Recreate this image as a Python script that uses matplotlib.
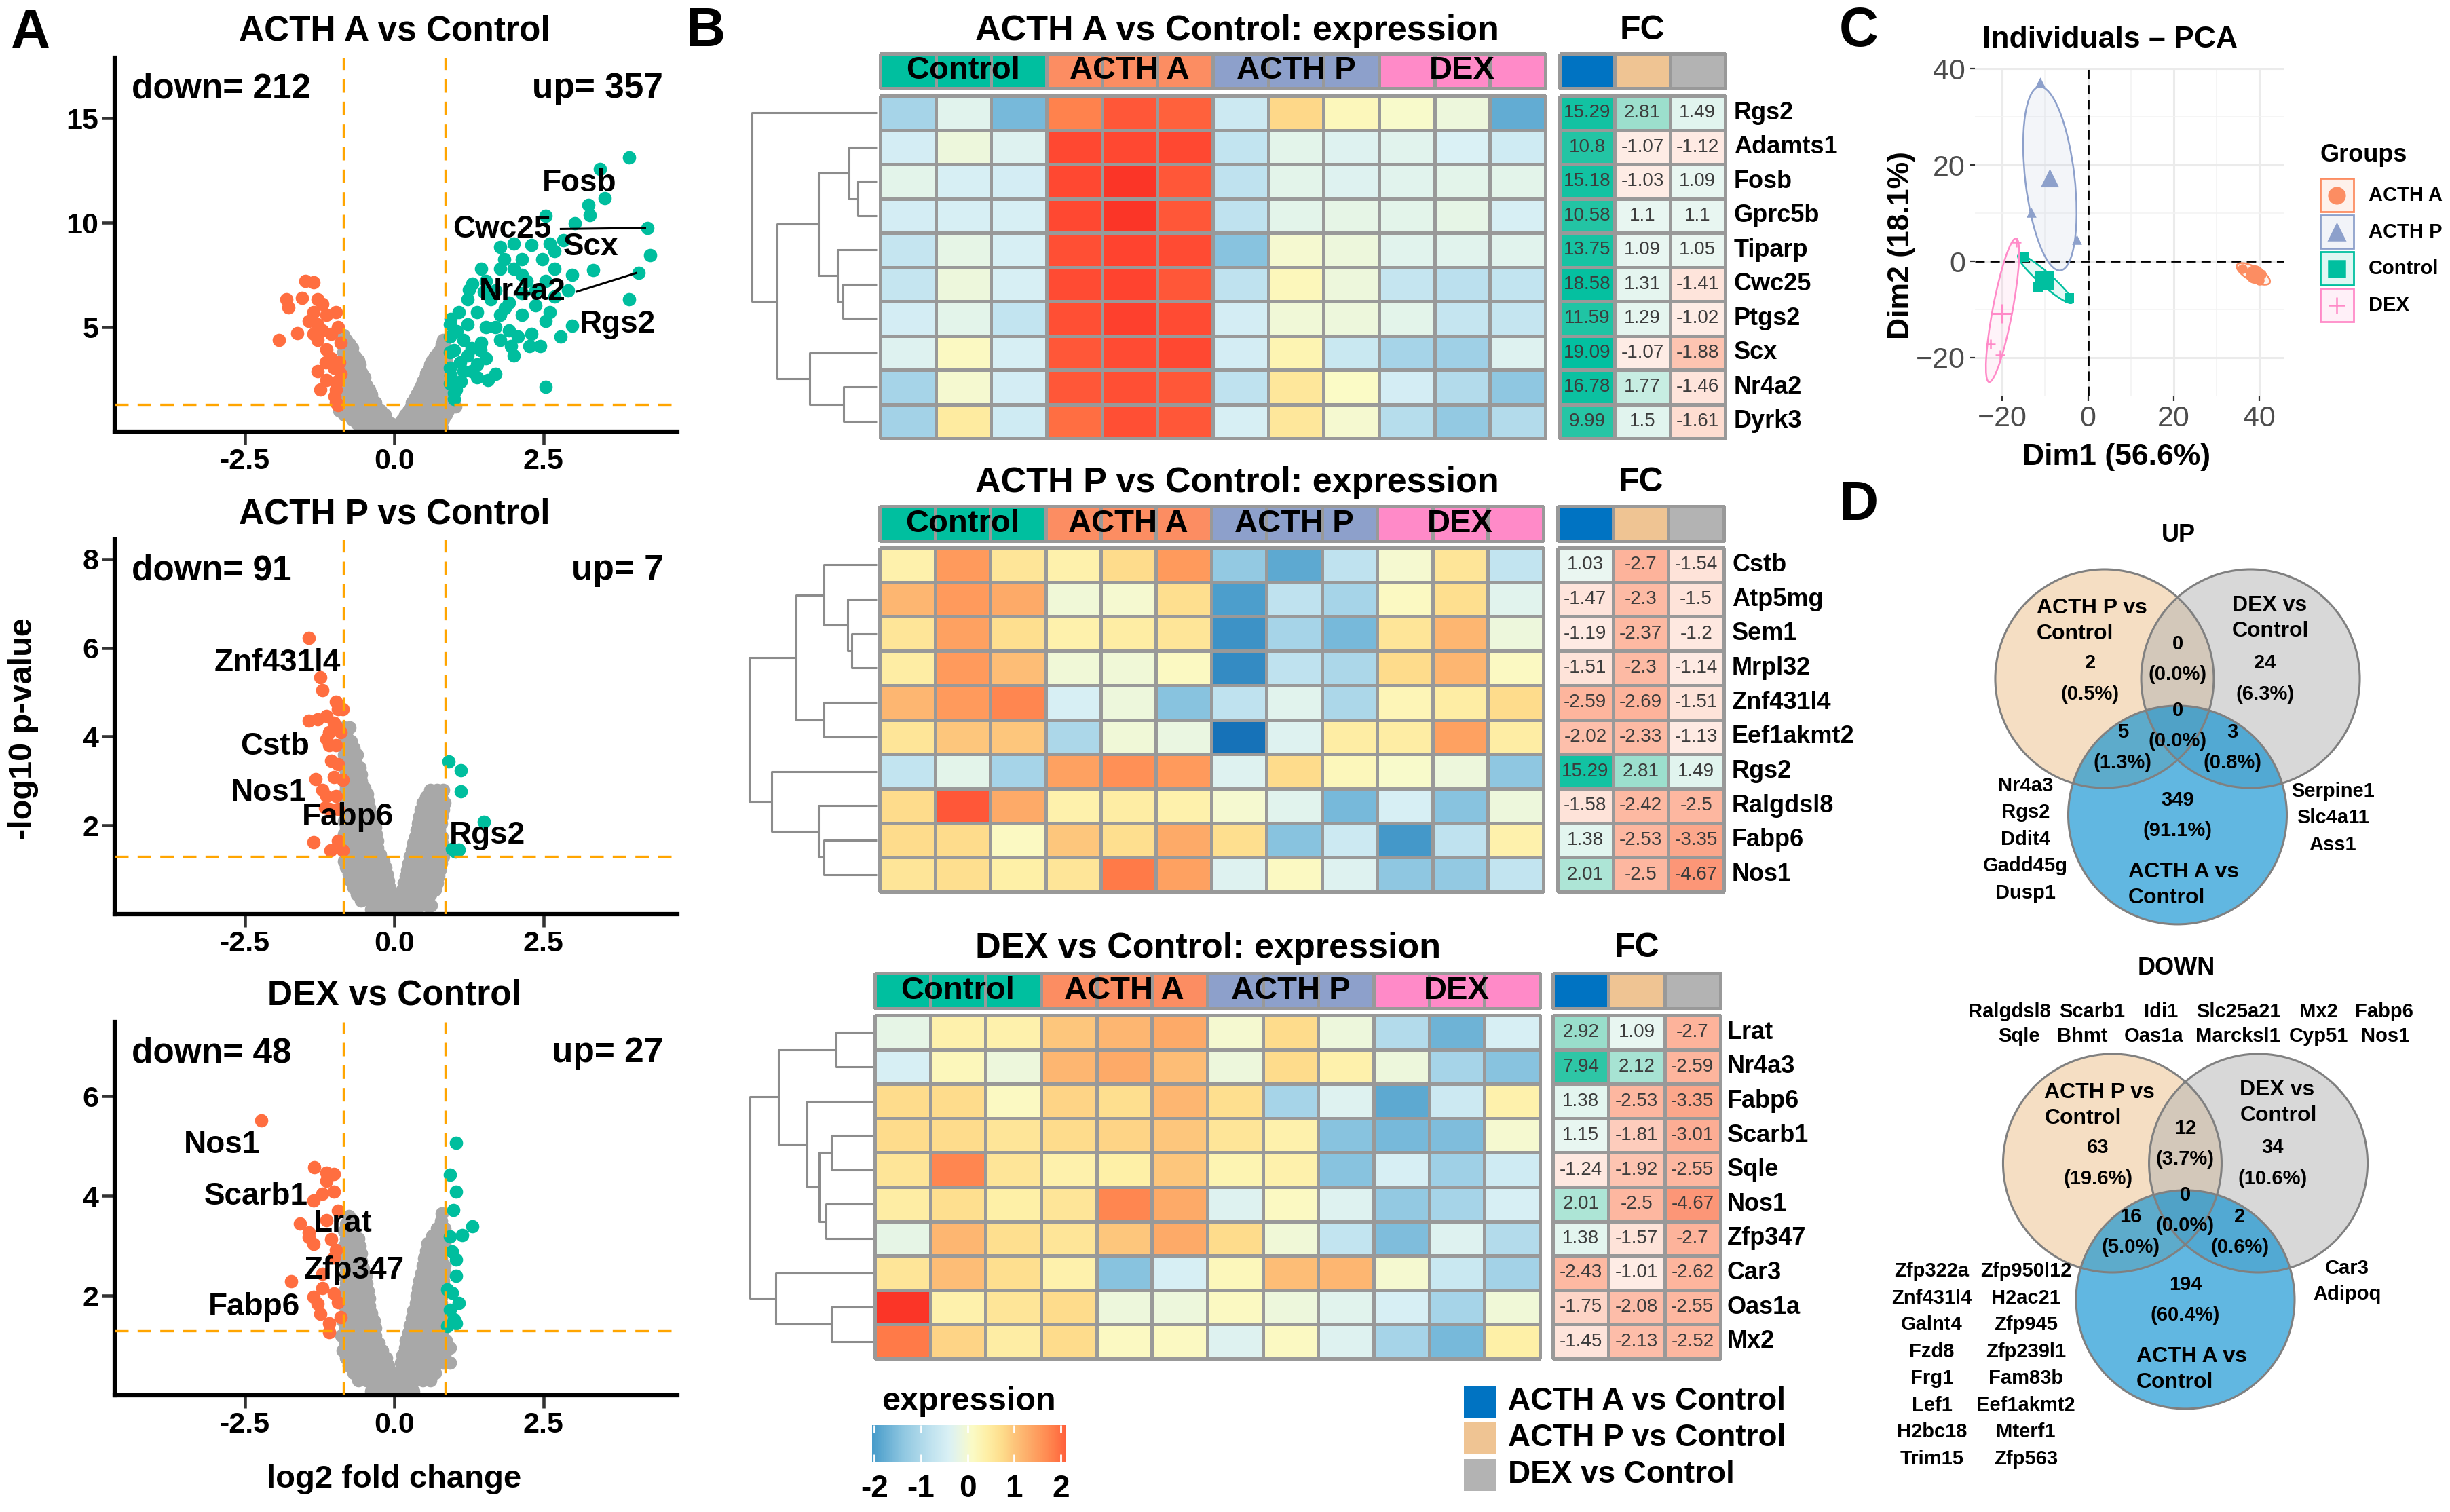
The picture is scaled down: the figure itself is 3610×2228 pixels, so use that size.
import numpy as np
import matplotlib
matplotlib.use("Agg")
import matplotlib.pyplot as plt
from matplotlib.colors import LinearSegmentedColormap, ListedColormap, Normalize
from matplotlib.patches import Ellipse, Circle, Rectangle

plt.rcParams['font.family'] = ['Liberation Sans', 'DejaVu Sans']
plt.rcParams['axes.unicode_minus'] = False

##############################################################################
# Panel A: volcano plots (log2 fold change, -log10 p)
FC_CUT = 0.85
P_CUT = 1.3

V1_GRAY = [
    (4.6, [-0.85]), (4.2, [-0.85, -0.75]), (3.8, [-0.85, -0.72]),
    (3.4, [-0.85, -0.72, -0.6]), (3.0, [-0.85, -0.72, -0.58]),
    (2.6, [-0.85, -0.72, -0.58, -0.5]), (2.2, [-0.85, -0.72, -0.58, -0.46]),
    (1.8, [-0.85, -0.72, -0.58, -0.44, -0.38]), (1.4, [-0.88, -0.74, -0.6, -0.46, -0.32]),
    (1.0, [-0.92, -0.78, -0.64, -0.5, -0.36, -0.22]), (0.6, [-0.7, -0.56, -0.42, -0.28, -0.14]),
    (0.2, [-0.5, -0.36, -0.22, -0.08, 0.06, 0.2, 0.34, 0.48, 0.6]),
    (4.4, [-0.8]), (4.0, [-0.8, -0.7]), (3.6, [-0.8, -0.66]), (3.2, [-0.8, -0.66, -0.58]),
    (2.8, [-0.8, -0.66, -0.54]), (2.4, [-0.8, -0.66, -0.52]), (2.0, [-0.8, -0.66, -0.52, -0.42]),
    (1.6, [-0.8, -0.66, -0.52, -0.4]), (1.2, [-0.84, -0.7, -0.56, -0.42, -0.3]),
    (0.8, [-0.84, -0.7, -0.56, -0.42, -0.28, -0.16]), (0.4, [-0.62, -0.48, -0.34, -0.2, -0.06, 0.08]),
    (4.4, [0.82]), (4.0, [0.78, 0.86]), (3.6, [0.68, 0.82]), (3.2, [0.6, 0.72, 0.84]),
    (2.8, [0.54, 0.68, 0.82]), (2.4, [0.48, 0.62, 0.76, 0.86]), (2.0, [0.42, 0.56, 0.7, 0.84]),
    (1.6, [0.34, 0.48, 0.62, 0.76, 0.86]), (1.2, [0.28, 0.42, 0.56, 0.7, 0.84, 1.02]),
    (0.8, [0.18, 0.32, 0.46, 0.6, 0.74, 0.86]), (0.4, [0.1, 0.24, 0.38, 0.52, 0.66]),
    (4.2, [0.8]), (3.8, [0.74, 0.84]), (3.4, [0.64, 0.76, 0.86]), (3.0, [0.58, 0.7, 0.82]),
    (2.6, [0.52, 0.64, 0.76]), (2.2, [0.46, 0.58, 0.7, 0.8]), (1.8, [0.38, 0.52, 0.66, 0.8]),
    (1.4, [0.3, 0.44, 0.58, 0.72, 0.84]), (1.0, [0.24, 0.38, 0.52, 0.66, 0.8, 0.9]),
    (0.6, [0.14, 0.28, 0.42, 0.56, 0.7, 0.82]), (0.2, [0.7, 0.8]),
]
V1_DOWN = [(-1.93, 4.39), (-1.62, 4.72), (-1.81, 6.32), (-1.77, 5.95), (-1.49, 7.22), (-1.35, 7.14),
           (-1.54, 6.40), (-1.28, 6.32), (-1.20, 6.10), (-1.35, 5.73), (-1.13, 5.58), (-1.28, 5.13),
           (-0.97, 5.73), (-0.94, 4.99), (-1.28, 4.39), (-1.13, 3.94), (-1.28, 2.90), (-1.01, 3.05),
           (-1.24, 2.01), (-0.97, 2.01), (-0.97, 1.41), (-0.94, 1.26), (-1.35, 4.69), (-1.05, 3.50),
           (-0.90, 2.75), (-1.43, 5.28), (-1.20, 4.84), (-0.90, 4.24), (-1.13, 2.46), (-1.05, 4.69),
           (-0.92, 3.30), (-0.95, 2.40), (-1.15, 3.30), (-1.00, 1.70)]
V1_UP = [(3.93, 13.13), (3.44, 12.57), (3.52, 11.16), (3.25, 10.86), (3.27, 10.37), (3.02, 9.97),
         (2.53, 10.34), (4.24, 9.75), (4.28, 8.44), (4.09, 7.59), (3.33, 7.74), (3.93, 6.32),
         (2.98, 5.06), (2.79, 4.54), (2.53, 2.16), (2.45, 4.09), (2.26, 4.09), (2.00, 3.65),
         (1.96, 4.09), (1.69, 2.75), (1.57, 2.46), (1.39, 2.60), (1.00, 1.56), (1.04, 2.01),
         (1.77, 8.85), (2.00, 9.00), (2.30, 8.93), (2.60, 9.00), (2.68, 8.63), (2.48, 8.26),
         (2.14, 8.26), (1.84, 8.26), (1.46, 7.81), (1.77, 7.81), (2.68, 7.81), (2.22, 7.22),
         (2.53, 7.22), (1.54, 7.22), (1.31, 7.07), (1.69, 6.77), (2.14, 6.62), (1.23, 6.32),
         (1.61, 6.32), (1.92, 6.18), (2.37, 6.03), (1.08, 5.73), (1.39, 5.73), (1.77, 5.58),
         (2.14, 5.58), (2.53, 5.28), (2.60, 5.73), (0.93, 5.13), (1.23, 5.13), (1.54, 4.99),
         (1.92, 4.84), (2.30, 4.69), (0.93, 4.54), (1.16, 4.39), (1.46, 4.24), (1.77, 4.39),
         (2.07, 4.54), (0.93, 3.79), (1.23, 3.65), (1.54, 3.50), (0.93, 3.05), (1.16, 2.90),
         (1.39, 3.20), (0.93, 2.31), (1.00, 1.86), (2.68, 6.47), (2.91, 6.77), (2.37, 6.77),
         (2.00, 7.81), (2.83, 9.15), (2.14, 7.50), (2.98, 7.50), (0.95, 2.70), (1.10, 3.30),
         (1.30, 4.00), (0.95, 5.40), (1.05, 4.80), (1.00, 3.90), (1.12, 2.40), (1.30, 2.90),
         (1.45, 3.90), (1.70, 5.00), (1.85, 5.90), (1.50, 6.70), (1.25, 6.80)]
V1_LABELS = [('Fosb', 3.10, 11.9), ('Cwc25', 1.80, 9.67), ('Scx', 3.29, 8.85),
             ('Nr4a2', 2.15, 6.70), ('Rgs2', 3.74, 5.13)]
V1_SEGMENTS = [((2.79, 9.70), (4.20, 9.75)), ((3.06, 6.70), (4.05, 7.59))]

V2_GRAY = [
    (4.2, [-0.84, -0.75]), (3.9, [-0.84, -0.72]), (3.6, [-0.84, -0.7, -0.62]),
    (3.3, [-0.84, -0.7, -0.58]), (3.0, [-0.84, -0.7, -0.55]), (2.7, [-0.84, -0.7, -0.56, -0.45]),
    (2.4, [-0.84, -0.7, -0.56, -0.42]), (2.1, [-0.84, -0.7, -0.56, -0.42, -0.35]),
    (1.8, [-0.84, -0.7, -0.56, -0.42, -0.3]), (1.5, [-0.84, -0.7, -0.56, -0.42, -0.28]),
    (1.2, [-0.84, -0.7, -0.56, -0.42, -0.28, -0.18]), (0.9, [-0.76, -0.62, -0.48, -0.34, -0.2, -0.12]),
    (0.6, [-0.68, -0.55, -0.42, -0.3, -0.18, -0.08]),
    (0.3, [-0.55, -0.42, -0.3, -0.18, -0.06, 0.06, 0.18, 0.3, 0.42, 0.52]),
    (0.1, [-0.38, -0.25, -0.12, 0.0, 0.12, 0.25, 0.38]), (0.78, [-0.75]),
    (4.05, [-0.8]), (3.75, [-0.8, -0.68]), (3.45, [-0.8, -0.66]), (3.15, [-0.8, -0.64, -0.56]),
    (2.85, [-0.8, -0.64, -0.5]), (2.55, [-0.8, -0.64, -0.5, -0.44]), (2.25, [-0.8, -0.64, -0.5, -0.4]),
    (1.95, [-0.8, -0.64, -0.5, -0.36, -0.32]), (1.65, [-0.8, -0.64, -0.5, -0.36, -0.28]),
    (1.35, [-0.8, -0.64, -0.5, -0.36, -0.24]), (1.05, [-0.8, -0.66, -0.52, -0.38, -0.24, -0.15]),
    (0.75, [-0.72, -0.58, -0.44, -0.3, -0.16, -0.1]),
    (0.45, [-0.62, -0.48, -0.36, -0.24, -0.12, 0.0, 0.12, 0.24, 0.36, 0.48, 0.6]),
    (2.8, [0.6, 0.72, 0.82]), (2.5, [0.48, 0.6, 0.72, 0.84]), (2.2, [0.42, 0.55, 0.68, 0.8]),
    (1.9, [0.38, 0.5, 0.62, 0.75]), (1.6, [0.32, 0.45, 0.58, 0.7, 0.8]),
    (1.3, [0.26, 0.4, 0.54, 0.68, 0.82]), (1.0, [0.22, 0.36, 0.5, 0.64, 0.76]),
    (0.7, [0.16, 0.3, 0.44, 0.58, 0.72]),
    (2.65, [0.54, 0.66, 0.78]), (2.35, [0.45, 0.58, 0.7, 0.82]), (2.05, [0.4, 0.52, 0.65, 0.78]),
    (1.75, [0.35, 0.48, 0.6, 0.72, 0.8]), (1.45, [0.3, 0.42, 0.56, 0.7, 0.8]),
    (1.15, [0.24, 0.38, 0.52, 0.66, 0.78]), (0.85, [0.2, 0.34, 0.48, 0.62, 0.74]),
    (0.55, [0.14, 0.28, 0.42, 0.56, 0.68]), (0.2, [0.45, 0.55, 0.62]),
]
V2_DOWN = [(-1.43, 6.22), (-1.24, 5.33), (-1.20, 5.04), (-0.97, 4.79), (-0.94, 4.61), (-0.86, 4.61),
           (-1.43, 4.35), (-1.28, 4.39), (-1.13, 4.46), (-1.01, 4.31), (-1.09, 4.10), (-0.97, 3.81),
           (-1.09, 3.81), (-1.05, 3.45), (-0.94, 3.38), (-1.01, 3.09), (-0.86, 3.02), (-1.32, 3.05),
           (-1.20, 2.80), (-1.13, 2.66), (-0.97, 2.66), (-1.09, 2.37), (-0.94, 2.37), (-1.16, 2.40),
           (-1.35, 1.62), (-0.94, 1.65), (-1.07, 1.43), (-0.86, 1.43), (-1.13, 3.95), (-0.90, 4.10),
           (-0.97, 4.24)]
V2_UP = [(0.91, 3.44), (1.12, 3.24), (1.12, 2.77), (1.50, 2.08), (0.97, 1.47), (1.08, 1.45), (1.02, 1.40)]
V2_LABELS = [('Znf431l4', -1.95, 5.65), ('Cstb', -2.00, 3.77), ('Nos1', -2.10, 2.74),
             ('Fabp6', -0.78, 2.18), ('Rgs2', 1.56, 1.78)]

V3_GRAY = [
    (3.6, [-0.76]), (3.3, [-0.84, -0.7]), (3.0, [-0.84, -0.7, -0.58]), (2.7, [-0.84, -0.7, -0.56]),
    (2.4, [-0.84, -0.7, -0.56, -0.48]), (2.1, [-0.84, -0.7, -0.56, -0.44]),
    (1.8, [-0.84, -0.7, -0.56, -0.42]), (1.5, [-0.86, -0.72, -0.58, -0.44, -0.34]),
    (1.2, [-0.88, -0.74, -0.6, -0.46, -0.32]), (0.9, [-0.86, -0.72, -0.58, -0.44, -0.3, -0.2]),
    (0.6, [-0.76, -0.62, -0.48, -0.34, -0.2, -0.1]),
    (0.3, [-0.6, -0.46, -0.32, -0.18, -0.05, 0.08, 0.2, 0.34, 0.48, 0.6]),
    (0.08, [-0.38, -0.24, -0.1, 0.04, 0.18, 0.32]),
    (3.45, [-0.8, -0.74]), (3.15, [-0.8, -0.66, -0.6]), (2.85, [-0.8, -0.64, -0.56]),
    (2.55, [-0.8, -0.64, -0.52]), (2.25, [-0.8, -0.64, -0.5, -0.46]), (1.95, [-0.8, -0.64, -0.5, -0.42]),
    (1.65, [-0.8, -0.64, -0.5, -0.38]), (1.35, [-0.82, -0.66, -0.52, -0.38, -0.32]),
    (1.05, [-0.82, -0.66, -0.52, -0.38, -0.26]), (0.75, [-0.8, -0.66, -0.52, -0.38, -0.24, -0.14]),
    (0.45, [-0.68, -0.54, -0.4, -0.26, -0.12, 0.02, 0.14, 0.28, 0.42, 0.56, 0.68]),
    (3.65, [0.8]), (3.35, [0.72, 0.84]), (3.05, [0.56, 0.7, 0.84]), (2.75, [0.5, 0.64, 0.78]),
    (2.45, [0.46, 0.6, 0.74, 0.84]), (2.15, [0.4, 0.54, 0.68, 0.82]), (1.85, [0.36, 0.5, 0.64, 0.78]),
    (1.55, [0.3, 0.44, 0.58, 0.72, 0.84]), (1.25, [0.24, 0.38, 0.52, 0.66, 0.8]),
    (0.95, [0.18, 0.32, 0.46, 0.6, 0.74, 0.93]), (0.65, [0.12, 0.26, 0.4, 0.54, 0.68, 0.82, 0.93]),
    (3.5, [0.78]), (3.2, [0.64, 0.78]), (2.9, [0.53, 0.66, 0.8]), (2.6, [0.48, 0.6, 0.72, 0.84]),
    (2.3, [0.42, 0.56, 0.7, 0.82]), (2.0, [0.38, 0.52, 0.66, 0.8]), (1.7, [0.32, 0.46, 0.6, 0.74, 0.84]),
    (1.4, [0.26, 0.4, 0.54, 0.68, 0.82]), (1.1, [0.2, 0.34, 0.48, 0.62, 0.76, 0.86]),
    (0.8, [0.14, 0.28, 0.42, 0.56, 0.7, 0.84]),
]
V3_DOWN = [(-2.23, 5.52), (-1.34, 4.57), (-1.13, 4.47), (-1.01, 4.44), (-1.13, 4.31), (-1.01, 4.08),
           (-1.20, 4.04), (-1.35, 3.91), (-0.94, 3.71), (-1.13, 3.51), (-1.58, 3.44), (-1.43, 3.27),
           (-1.35, 3.04), (-1.05, 3.13), (-0.97, 2.91), (-1.01, 2.77), (-1.20, 2.44), (-1.73, 2.29),
           (-1.20, 2.15), (-1.35, 1.97), (-1.01, 2.04), (-1.28, 1.84), (-0.94, 1.87), (-1.24, 1.64),
           (-0.90, 1.57), (-1.09, 1.44), (-1.09, 1.27), (-1.43, 3.17)]
V3_UP = [(1.03, 5.06), (0.93, 4.43), (1.03, 4.09), (0.99, 3.72), (1.31, 3.39), (1.14, 3.22),
         (0.93, 3.19), (0.97, 2.89), (1.03, 2.72), (1.04, 2.39), (0.89, 2.12), (0.97, 2.05),
         (1.08, 1.85), (0.93, 1.72), (1.00, 1.52), (1.04, 1.45), (0.89, 1.39)]
V3_LABELS = [('Nos1', -2.88, 5.03), ('Scarb1', -2.31, 3.99), ('Lrat', -0.86, 3.44),
             ('Zfp347', -0.67, 2.51), ('Fabp6', -2.34, 1.77)]

VOLCANO_TITLES = ['ACTH A vs Control', 'ACTH P vs Control', 'DEX vs Control']
N_DOWN = [212, 91, 48]
N_UP = [357, 7, 27]
Y_TOPS = [17.9, 8.44, 7.49]
Y_TICKS = [[5, 10, 15], [2, 4, 6, 8], [2, 4, 6]]

##############################################################################
# Panel B: heatmaps (row z-scores), fold changes and dendrograms
GROUPS = ['Control', 'ACTH A', 'ACTH P', 'DEX']
GROUP_IDX = [0, 0, 0, 1, 1, 1, 2, 2, 2, 3, 3, 3]
COMPARISONS = ['ACTH A vs Control', 'ACTH P vs Control', 'DEX vs Control']

HM1_GENES = ['Rgs2', 'Adamts1', 'Fosb', 'Gprc5b', 'Tiparp', 'Cwc25', 'Ptgs2', 'Scx', 'Nr4a2', 'Dyrk3']
HM1_VALUES = [
    [-1.1, -0.3, -1.6, 1.8, 2.2, 2.1, -0.6, 0.8, 0.2, 0.05, -0.1, -1.8],
    [-0.5, -0.1, -0.35, 2.4, 2.4, 2.4, -0.75, -0.25, -0.35, -0.3, -0.4, -0.55],
    [-0.25, -0.45, -0.5, 2.4, 2.65, 2.2, -0.8, -0.25, -0.35, -0.3, -0.25, -0.25],
    [-0.5, -0.45, -0.45, 2.4, 2.65, 2.2, -0.8, -0.25, -0.2, -0.25, -0.2, -0.45],
    [-0.7, -0.2, -0.45, 2.3, 2.45, 2.35, -1.45, 0.0, -0.1, -0.3, -0.3, -0.3],
    [-0.7, -0.1, -0.45, 2.35, 2.45, 2.2, -0.8, 0.2, -0.1, -0.7, -0.85, -0.75],
    [-0.5, -0.25, -0.75, 2.3, 2.5, 2.35, -0.5, -0.05, -0.1, -0.25, -0.7, -0.7],
    [-0.35, 0.15, -0.45, 2.2, 2.35, 2.4, -0.5, 0.3, -0.65, -1.1, -1.2, -0.35],
    [-1.1, 0.0, -0.5, 2.2, 2.3, 2.2, -0.8, 0.55, 0.1, -0.5, -0.95, -1.4],
    [-1.15, 0.5, -0.55, 2.0, 2.3, 2.2, -0.45, 0.55, 0.0, -0.9, -1.35, -0.95],
]
HM1_FC = [[15.29, 2.81, 1.49], [10.8, -1.07, -1.12], [15.18, -1.03, 1.09], [10.58, 1.1, 1.1],
          [13.75, 1.09, 1.05], [18.58, 1.31, -1.41], [11.59, 1.29, -1.02], [19.09, -1.07, -1.88],
          [16.78, 1.77, -1.46], [9.99, 1.5, -1.61]]
HM1_TREE = [(2, 3, 28), (1, 10, 41), (5, 6, 50), (4, 12, 58), (11, 13, 86),
            (8, 9, 49), (7, 15, 99), (14, 16, 147), (0, 17, 184)]

HM2_GENES = ['Cstb', 'Atp5mg', 'Sem1', 'Mrpl32', 'Znf431l4', 'Eef1akmt2', 'Rgs2', 'Ralgdsl8', 'Fabp6', 'Nos1']
HM2_VALUES = [
    [0.35, 1.55, 0.6, 0.35, 0.75, 1.55, -1.35, -1.85, -0.8, 0.0, 0.6, -0.75],
    [1.2, 1.55, 1.35, -0.05, 0.0, 0.7, -2.0, -0.8, -1.1, 0.15, 0.7, -0.3],
    [0.6, 1.45, 0.7, 0.35, 0.45, 0.6, -2.2, -1.1, -1.6, 0.6, 1.2, -0.1],
    [0.45, 1.55, 1.1, -0.05, -0.05, 0.15, -2.3, -0.8, -1.05, 0.75, 1.2, 0.15],
    [1.2, 1.55, 1.75, -0.45, -0.1, -1.45, -0.8, -0.3, -1.05, 0.25, 0.45, 0.75],
    [0.6, 1.0, 1.0, -1.05, -0.05, -0.15, -2.7, -0.35, 0.45, 0.45, 1.45, 0.45],
    [-0.75, -0.25, -1.1, 1.45, 1.65, 1.55, -0.35, 0.75, 0.2, 0.05, -0.1, -1.4],
    [0.75, 2.2, 1.35, 0.35, 0.45, 0.35, 0.0, -0.3, -1.6, -0.45, -1.45, -0.1],
    [0.75, 0.75, 0.15, 1.0, 0.7, 1.35, 0.7, -1.45, -0.6, -2.1, -0.8, 0.35],
    [0.6, 0.7, 0.4, 0.6, 1.9, 1.45, -0.35, 0.15, -0.35, -1.4, -1.35, -0.75],
]
HM2_FC = [[1.03, -2.7, -1.54], [-1.47, -2.3, -1.5], [-1.19, -2.37, -1.2], [-1.51, -2.3, -1.14],
          [-2.59, -2.69, -1.51], [-2.02, -2.33, -1.13], [15.29, 2.81, 1.49], [-1.58, -2.42, -2.5],
          [1.38, -2.53, -3.35], [2.01, -2.5, -4.67]]
HM2_TREE = [(2, 3, 37), (1, 10, 43), (0, 11, 78), (4, 5, 78), (12, 13, 119),
            (8, 9, 78), (7, 15, 86), (6, 16, 155), (14, 17, 188)]

HM3_GENES = ['Lrat', 'Nr4a3', 'Fabp6', 'Scarb1', 'Sqle', 'Nos1', 'Zfp347', 'Car3', 'Oas1a', 'Mx2']
HM3_VALUES = [
    [-0.2, 0.35, 0.35, 1.0, 1.2, 1.35, 0.0, 0.75, -0.1, -0.95, -1.7, -0.45],
    [-0.45, 0.2, -0.1, 1.2, 1.35, 1.1, -0.1, 0.75, 0.35, -0.1, -1.1, -1.45],
    [0.75, 0.75, 0.15, 0.85, 0.7, 1.2, 0.7, -1.1, -0.35, -1.85, -0.6, 0.35],
    [0.75, 0.75, 0.6, 0.75, 0.85, 1.0, 0.6, 0.35, -1.45, -1.6, -1.55, 0.0],
    [0.6, 1.75, 0.6, 0.35, 0.4, 1.0, 0.3, 0.35, -1.45, -0.45, -1.2, -0.55],
    [0.45, 0.7, 0.4, 0.6, 1.75, 1.35, -0.35, 0.15, -0.35, -1.35, -1.1, -0.45],
    [-0.2, 1.2, 0.7, 0.6, 1.0, 1.35, 0.75, -0.05, -0.75, -1.55, -0.35, -0.95],
    [0.6, 1.1, 0.7, 0.35, -1.45, -0.45, 0.2, 1.1, 1.2, 0.0, -0.65, -1.15],
    [2.65, 0.35, 0.6, 0.75, -0.1, -0.1, 0.15, -0.1, -0.3, -0.45, -1.1, -0.05],
    [1.9, 0.85, 0.45, 0.75, 0.15, 0.15, -0.35, 0.15, -0.35, -1.1, -1.6, 0.4],
]
HM3_FC = [[2.92, 1.09, -2.7], [7.94, 2.12, -2.59], [1.38, -2.53, -3.35], [1.15, -1.81, -3.01],
          [-1.24, -1.92, -2.55], [2.01, -2.5, -4.67], [1.38, -1.57, -2.7], [-2.43, -1.01, -2.62],
          [-1.75, -2.08, -2.55], [-1.45, -2.13, -2.52]]
HM3_TREE = [(0, 1, 54), (3, 4, 61), (5, 6, 69), (11, 12, 79), (2, 13, 97),
            (10, 14, 139), (8, 9, 61), (7, 16, 143), (15, 17, 181)]

##############################################################################
# Panel C: PCA individuals
PCA_GROUPS = ['ACTH A', 'ACTH P', 'Control', 'DEX']
PCA_X = [[36.0, 40.5, 40.0], [-11.2, -13.2, -2.6], [-14.8, -4.4, -11.7], [-16.8, -22.7, -20.5]]
PCA_Y = [[-1.5, -2.6, -4.0], [37.3, 10.2, 4.5], [0.9, -7.6, -5.3], [3.9, -17.2, -19.4]]
# confidence ellipses: centre x, centre y, width, height, angle (deg)
PCA_ELLIPSES = [(38.6, -2.6, 8.5, 3.0, -25), (-8.9, 17.2, 38.5, 11.5, 97.5),
                (-10.0, -3.65, 16.0, 2.8, -38), (-19.95, -10.15, 30.5, 4.6, 78)]

##############################################################################
# Panel D: Venn counts  [P only, DEX only, A only, P&DEX, P&A, DEX&A, all]
VENN_UP = [2, 24, 349, 0, 5, 3, 0]
VENN_DOWN = [63, 34, 194, 12, 16, 2, 0]
SET_LABELS = [('ACTH P vs', 'Control'), ('DEX vs', 'Control'), ('ACTH A vs', 'Control')]
UP_LEFT_GENES = ['Nr4a3', 'Rgs2', 'Ddit4', 'Gadd45g', 'Dusp1']
UP_RIGHT_GENES = ['Serpine1', 'Slc4a11', 'Ass1']
DOWN_TOP_GENES = [['Ralgdsl8', 'Scarb1', 'Idi1', 'Slc25a21', 'Mx2', 'Fabp6'],
                  ['Sqle', 'Bhmt', 'Oas1a', 'Marcksl1', 'Cyp51', 'Nos1']]
DOWN_LEFT_GENES = [['Zfp322a', 'Znf431l4', 'Galnt4', 'Fzd8', 'Frg1', 'Lef1', 'H2bc18', 'Trim15'],
                   ['Zfp950l12', 'H2ac21', 'Zfp945', 'Zfp239l1', 'Fam83b', 'Eef1akmt2', 'Mterf1', 'Zfp563']]
DOWN_RIGHT_GENES = ['Car3', 'Adipoq']

##############################################################################
# colours
ORANGE = '#FF6E40'
TEAL = '#00BE9E'
GRAY = '#A8A8A8'
CUT = '#FFA500'
GROUP_COLORS = ['#00BF9F', '#FC8D62', '#8DA0CB', '#FF8AC8']
PCA_COLORS = ['#FC8D62', '#8DA0CB', '#00BF9F', '#FF8AC8']
PCA_MARKERS = ['o', '^', 's', '+']
FC_GROUP_COLORS = ['#0073C2', '#EFC493', '#B3B3B3']
BORDER = '#999999'
DENDRO = '#8C8C8C'

EXPR_STOPS = [-2.8, -2.0, -1.4, -0.8, -0.4, -0.15, 0.1, 0.4, 0.75, 1.0, 1.35, 1.55, 1.9, 2.2, 2.45, 2.8]
EXPR_COLS = ['#0F6DB5', '#4D9FCC', '#8FC7E1', '#BFE2EF', '#DAF1F5', '#EAF6E2', '#FBFBC6', '#FEF0A8',
             '#FEDD8C', '#FDC67C', '#FDAA68', '#FF9A5C', '#FF7A48', '#FF5838', '#FF4430', '#F82C22']
FC_STOPS = [-5.0, -4.7, -3.4, -3.0, -2.5, -2.0, -1.8, -1.6, -1.0, 0.0, 1.0, 1.5, 1.8, 2.0, 3.0, 8.0, 20.0]
FC_COLS = ['#FC9070', '#FC9677', '#FCA78C', '#FCAE95', '#FDB8A1', '#FDC0AC', '#FDD2C3', '#FEE2D8', '#FEEDE7',
           '#FFFFFF', '#EAF6F1', '#E0F4EE', '#C4ECE0', '#A8E3D3', '#98DECB', '#2DC6A6', '#00BF9F']


def make_cmap(stops, cols, name):
    lo, hi = stops[0], stops[-1]
    pos = [(s - lo) / (hi - lo) for s in stops]
    return LinearSegmentedColormap.from_list(name, list(zip(pos, cols))), Normalize(lo, hi)


EXPR_CMAP, EXPR_NORM = make_cmap(EXPR_STOPS, EXPR_COLS, 'expr')
FC_CMAP, FC_NORM = make_cmap(FC_STOPS, FC_COLS, 'fc')

W, H = 3610, 2228
fig = plt.figure(figsize=(W / 100, H / 100), dpi=100)


def box(x0, y0, x1, y1):
    return [x0 / W, 1 - y1 / H, (x1 - x0) / W, (y1 - y0) / H]


def ftext(x, y, s, **kw):
    kw.setdefault('weight', 'bold')
    kw.setdefault('ha', 'center')
    kw.setdefault('va', 'center')
    return fig.text(x / W, 1 - y / H, s, **kw)


##############################################################################
# Panel A
V_ROWS = [(85, 636), (795, 1347), (1506, 2056)]
V_TITLE_Y = [46, 758, 1467]
V_DATA = [(V1_GRAY, V1_DOWN, V1_UP, V1_LABELS, V1_SEGMENTS),
          (V2_GRAY, V2_DOWN, V2_UP, V2_LABELS, []),
          (V3_GRAY, V3_DOWN, V3_UP, V3_LABELS, [])]

for k, (gray, down, up, labels, segs) in enumerate(V_DATA):
    y0, y1 = V_ROWS[k]
    ax = fig.add_axes(box(169, y0, 998, y1))
    gx = [x for yy, xs in gray for x in xs]
    gy = [yy for yy, xs in gray for x in xs]
    ax.scatter(gx, gy, s=200, color=GRAY, lw=0, zorder=2)
    dx, dy = zip(*down)
    ux, uy = zip(*up)
    ax.scatter(dx, dy, s=200, color=ORANGE, lw=0, zorder=3)
    ax.scatter(ux, uy, s=200, color=TEAL, lw=0, zorder=3)
    for v in (-FC_CUT, FC_CUT):
        ax.axvline(v, color=CUT, lw=2.4, ls=(0, (6, 4)), zorder=4)
    ax.axhline(P_CUT, color=CUT, lw=2.4, ls=(0, (6, 4)), zorder=4)
    for (sx, sy), (ex, ey) in segs:
        ax.plot([sx, ex], [sy, ey], color='black', lw=2.2, zorder=5)
    for t, lx, ly in labels:
        ax.text(lx, ly, t, ha='center', va='center', fontsize=33, weight='bold', zorder=6)
    ax.text(0.03, 0.917, f'down= {N_DOWN[k]}', transform=ax.transAxes, ha='left', va='center',
            fontsize=37, weight='bold')
    ax.text(0.975, 0.917, f'up= {N_UP[k]}', transform=ax.transAxes, ha='right', va='center',
            fontsize=37, weight='bold')
    ax.set_xlim(-4.68, 4.74)
    ax.set_ylim(0, Y_TOPS[k])
    ax.set_xticks([-2.5, 0, 2.5], ['-2.5', '0.0', '2.5'])
    ax.set_yticks(Y_TICKS[k], [str(t) for t in Y_TICKS[k]])
    for side in ('top', 'right'):
        ax.spines[side].set_visible(False)
    for side in ('left', 'bottom'):
        ax.spines[side].set_linewidth(4.5)
    ax.tick_params(length=14, width=3.3, color='#333333', labelsize=31, pad=3)
    for lab in ax.get_xticklabels() + ax.get_yticklabels():
        lab.set_fontweight('bold')
    ftext(581, V_TITLE_Y[k], VOLCANO_TITLES[k], fontsize=37)

ftext(35, 1074, '-log10 p-value', fontsize=35, rotation=90)
ftext(581, 2180, 'log2 fold change', fontsize=34)


##############################################################################
# Panel B
HM_GEO = [
    dict(x0=1297, x1=2277, bar=(79, 130), cells=(141, 646), tip=1292, fc=(2298, 2542), gene_x=2555, ty=45),
    dict(x0=1296, x1=2274, bar=(746, 797), cells=(807, 1314), tip=1292, fc=(2295, 2540), gene_x=2552, ty=711),
    dict(x0=1289, x1=2269, bar=(1434, 1486), cells=(1496, 2002), tip=1286, fc=(2288, 2535), gene_x=2545, ty=1397),
]
HM_DATA = [(HM1_GENES, HM1_VALUES, HM1_FC, HM1_TREE),
           (HM2_GENES, HM2_VALUES, HM2_FC, HM2_TREE),
           (HM3_GENES, HM3_VALUES, HM3_FC, HM3_TREE)]


def draw_tree(ax, merges, n):
    pos = {i: i + 0.5 for i in range(n)}
    hgt = {i: 0.0 for i in range(n)}
    for k, (a, b, h) in enumerate(merges):
        ax.plot([hgt[a], h, h, hgt[b]], [pos[a], pos[a], pos[b], pos[b]], color=DENDRO, lw=2.2,
                solid_capstyle='butt', clip_on=False)
        pos[n + k] = (pos[a] + pos[b]) / 2
        hgt[n + k] = h


for k, (genes, vals, fcs, tree) in enumerate(HM_DATA):
    g = HM_GEO[k]
    nr, nc = len(genes), len(vals[0])
    c0, c1 = g['cells']
    b0, b1 = g['bar']
    # main heatmap
    ax = fig.add_axes(box(g['x0'], c0, g['x1'], c1))
    m = ax.pcolormesh(np.arange(nc + 1), np.arange(nr + 1), np.array(vals), cmap=EXPR_CMAP, norm=EXPR_NORM,
                      edgecolors=BORDER, linewidth=2.2)
    m.set_clip_on(False)
    ax.set_xlim(0, nc)
    ax.set_ylim(nr, 0)
    ax.axis('off')
    # column annotation
    ax = fig.add_axes(box(g['x0'], b0, g['x1'], b1))
    m = ax.pcolormesh(np.arange(nc + 1), [0, 1], [GROUP_IDX], cmap=ListedColormap(GROUP_COLORS),
                      vmin=-0.5, vmax=3.5, edgecolors=BORDER, linewidth=2.2)
    m.set_clip_on(False)
    for gi, name in enumerate(GROUPS):
        ax.text(3 * gi + 1.5, 0.5, name, ha='center', va='center', fontsize=34, weight='bold')
    ax.set_xlim(0, nc)
    ax.set_ylim(1, 0)
    ax.axis('off')
    # dendrogram
    root = tree[-1][2]
    ax = fig.add_axes(box(g['tip'] - root, c0, g['tip'], c1))
    draw_tree(ax, tree, nr)
    ax.set_xlim(root, 0)
    ax.set_ylim(nr, 0)
    ax.axis('off')
    # fold change block
    f0, f1 = g['fc']
    ax = fig.add_axes(box(f0, c0, f1, c1))
    m = ax.pcolormesh(np.arange(4), np.arange(nr + 1), np.array(fcs), cmap=FC_CMAP, norm=FC_NORM,
                      edgecolors=BORDER, linewidth=2.2)
    m.set_clip_on(False)
    for i, row in enumerate(fcs):
        for j, v in enumerate(row):
            ax.text(j + 0.5, i + 0.5, f'{v:g}', ha='center', va='center', fontsize=20, color='#3C3C3C')
    gene_off = 3 + (g['gene_x'] - f1) / ((f1 - f0) / 3)
    for i, gname in enumerate(genes):
        ax.text(gene_off, i + 0.5, gname, ha='left', va='center', fontsize=26, weight='bold', clip_on=False)
    ax.set_xlim(0, 3)
    ax.set_ylim(nr, 0)
    ax.axis('off')
    ax = fig.add_axes(box(f0, b0, f1, b1))
    m = ax.pcolormesh(np.arange(4), [0, 1], [[0, 1, 2]], cmap=ListedColormap(FC_GROUP_COLORS),
                      vmin=-0.5, vmax=2.5, edgecolors=BORDER, linewidth=2.2)
    m.set_clip_on(False)
    ax.set_xlim(0, 3)
    ax.set_ylim(1, 0)
    ax.axis('off')
    # titles
    ftext(1437, g['ty'], f'{COMPARISONS[k]}: expression', fontsize=37.5, ha='left')
    ftext((f0 + f1) / 2, g['ty'], 'FC', fontsize=36)

# expression legend
ftext(1427, 2066, 'expression', fontsize=35)
cax = fig.add_axes(box(1285, 2100, 1571, 2154))
cax.imshow(np.linspace(-2.05, 2.12, 256)[None, :], cmap=EXPR_CMAP, norm=EXPR_NORM, aspect='auto',
           extent=(-2.05, 2.12, 0, 1))
cax.set_xticks([-2, -1, 0, 1, 2], ['-2', '-1', '0', '1', '2'])
cax.set_yticks([])
for s in cax.spines.values():
    s.set_visible(False)
cax.tick_params(axis='x', direction='in', color='white', length=8, width=2, top=True,
                labelsize=33, pad=13)
for lab in cax.get_xticklabels():
    lab.set_fontweight('bold')

# fold-change legend
lax = fig.add_axes(box(2157, 2040, 2700, 2202))
lax.set_xlim(0, 543)
lax.set_ylim(3, 0)
lax.axis('off')
for i, (name, col) in enumerate(zip(COMPARISONS, FC_GROUP_COLORS)):
    lax.add_patch(Rectangle((0, i + 0.04), 48, 0.86, facecolor=col, lw=0))
    lax.text(65, i + 0.47, name, ha='left', va='center', fontsize=33, weight='bold')


##############################################################################
# Panel C
ax = fig.add_axes(box(2910, 100, 3365, 583))
for gi, name in enumerate(PCA_GROUPS):
    col = PCA_COLORS[gi]
    mk = PCA_MARKERS[gi]
    cx, cy, ew, eh, ea = PCA_ELLIPSES[gi]
    ax.add_patch(Ellipse((cx, cy), ew, eh, angle=ea, facecolor=col, alpha=0.1, lw=0, zorder=2))
    ax.add_patch(Ellipse((cx, cy), ew, eh, angle=ea, fill=False, edgecolor=col, lw=1.8, zorder=3))
    ax.scatter(PCA_X[gi], PCA_Y[gi], marker=mk, s=110, color=col, zorder=4,
               linewidths=1.8 if mk == '+' else 0)
    ax.scatter([np.mean(PCA_X[gi])], [np.mean(PCA_Y[gi])], marker=mk, s=380, color=col, zorder=4,
               linewidths=2.2 if mk == '+' else 0)
ax.axhline(0, color='black', lw=2.0, ls=(0, (5, 3)), zorder=1)
ax.axvline(0, color='black', lw=2.0, ls=(0, (5, 3)), zorder=1)
ax.set_xlim(-26.4, 45.7)
ax.set_ylim(-27.9, 40.2)
ax.set_xticks([-20, 0, 20, 40], ['\u221220', '0', '20', '40'])
ax.set_yticks([-20, 0, 20, 40], ['\u221220', '0', '20', '40'])
ax.set_xticks([-10, 10, 30], minor=True)
ax.set_yticks([-10, 10, 30], minor=True)
ax.grid(which='major', color='#EBEBEB', lw=2.2, zorder=0)
ax.grid(which='minor', color='#F3F3F3', lw=1.2, zorder=0)
ax.set_axisbelow(True)
for s in ax.spines.values():
    s.set_visible(False)
ax.tick_params(which='major', length=6, width=1.6, color='#333333', labelcolor='#4D4D4D',
               labelsize=31, pad=4)
ax.tick_params(which='minor', length=0)
ftext(3109, 58, 'Individuals \u2013 PCA', fontsize=32)
ftext(3119, 674, 'Dim1 (56.6%)', fontsize=32)
ftext(2801, 362, 'Dim2 (18.1%)', fontsize=32, rotation=90)

gax = fig.add_axes(box(3412, 205, 3610, 480))
gax.set_xlim(3412, 3610)
gax.set_ylim(480, 205)
gax.axis('off')
gax.text(3419, 228, 'Groups', ha='left', va='center', fontsize=26, weight='bold')
for gi, name in enumerate(PCA_GROUPS):
    col = PCA_COLORS[gi]
    top = 263 + gi * 54
    gax.add_patch(Rectangle((3419, top), 49, 49, facecolor=col, alpha=0.12, lw=0))
    gax.add_patch(Rectangle((3419, top), 49, 49, fill=False, edgecolor=col, lw=2.0))
    gax.plot([3443.5], [top + 24.5], marker=PCA_MARKERS[gi], ms=17, color=col, mew=1.8, ls='none')
    gax.text(3490, top + 24.5, name, ha='left', va='center', fontsize=21, weight='bold')


##############################################################################
# Panel D
R_PX = 161
CIRCLE_POS = [(-0.668, 0.0), (0.668, 0.0), (0.0, -1.248)]
VENN_FILLS = ['#EDBF89', '#B3B3B3', '#008CD0']
VENN_ALPHA = [0.5, 0.5, 0.62]
REGION_POS = [(-0.80, 0.0), (0.80, 0.0), (0.0, -1.25), (0.0, 0.175), (-0.50, -0.63), (0.50, -0.63),
              (0.0, -0.43)]
SET_LABEL_POS = [(-1.29, 0.53), (0.50, 0.555), (-0.45, -1.89)]


def venn(ox, oy, ytop, ybot, counts):
    ax = fig.add_axes(box(2700, ytop, 3610, ybot))
    ax.set_xlim((2700 - ox) / R_PX, (3610 - ox) / R_PX)
    ax.set_ylim((oy - ybot) / R_PX, (oy - ytop) / R_PX)
    ax.axis('off')
    for (cx, cy), col, a in zip(CIRCLE_POS, VENN_FILLS, VENN_ALPHA):
        ax.add_patch(Circle((cx, cy), 1.0, facecolor=col, alpha=a, lw=0))
    for cx, cy in CIRCLE_POS:
        ax.add_patch(Circle((cx, cy), 1.0, fill=False, edgecolor='#808080', lw=2.2))
    total = sum(counts)
    for (rx, ry), n in zip(REGION_POS, counts):
        ax.text(rx, ry + 0.14, str(n), ha='center', va='center', fontsize=21, weight='bold')
        ax.text(rx, ry - 0.14, f'({100 * n / total:.1f}%)', ha='center', va='center', fontsize=21,
                weight='bold')
    for (lx, ly), (l1, l2) in zip(SET_LABEL_POS, SET_LABELS):
        ax.text(lx, ly + 0.118, l1, ha='left', va='center', fontsize=23, weight='bold')
        ax.text(lx, ly - 0.118, l2, ha='left', va='center', fontsize=23, weight='bold')
    return ax


ftext(3210, 789, 'UP', fontsize=26)
ax = venn(3208.5, 1000, 800, 1400, VENN_UP)
for i, gname in enumerate(UP_LEFT_GENES):
    ax.text(-1.39, -0.98 - 0.245 * i, gname, ha='center', va='center', fontsize=21, weight='bold')
for i, gname in enumerate(UP_RIGHT_GENES):
    ax.text(1.42, -1.03 - 0.245 * i, gname, ha='center', va='center', fontsize=21, weight='bold')

ftext(3207, 1426, 'DOWN', fontsize=26)
ax = venn(3220, 1714, 1450, 2228, VENN_DOWN)
TOP_X = [[-1.61, -0.85, -0.22, 0.49, 1.22, 1.82], [-1.52, -0.94, -0.29, 0.48, 1.22, 1.83]]
for r, (row, xs) in enumerate(zip(DOWN_TOP_GENES, TOP_X)):
    for gname, x in zip(row, xs):
        ax.text(x, 1.385 - 0.224 * r, gname, ha='center', va='center', fontsize=21, weight='bold')
for c, col in enumerate(DOWN_LEFT_GENES):
    for i, gname in enumerate(col):
        ax.text([-2.32, -1.46][c], -0.99 - 0.245 * i, gname, ha='center', va='center', fontsize=21,
                weight='bold')
for i, gname in enumerate(DOWN_RIGHT_GENES):
    ax.text(1.48, -0.96 - 0.24 * i, gname, ha='center', va='center', fontsize=21, weight='bold')

# panel letters
for letter, (lx, ly) in zip('ABCD', [(45, 48), (1040, 47), (2739, 47), (2739, 745)]):
    ftext(lx, ly, letter, fontsize=58)

fig.savefig('out.png', dpi=100)
